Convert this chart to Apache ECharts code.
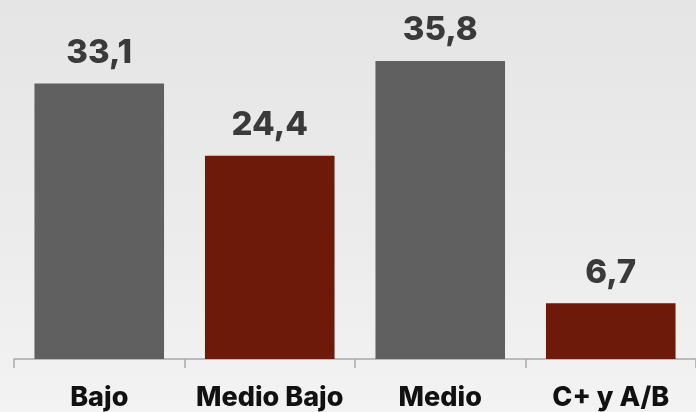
<!DOCTYPE html>
<html>
<head>
<meta charset="utf-8">
<script src="https://cdn.jsdelivr.net/npm/echarts@6/dist/echarts.min.js"></script>
<style>
  html, body { margin: 0; padding: 0; }
  #chart { width: 696px; height: 412px; }
</style>
</head>
<body>
<div id="chart"></div>
<script>
const categories = ["Bajo", "Medio Bajo", "Medio", "C+ y A/B"];
const values = [33.1, 24.4, 35.8, 6.7];
const barColors = ["#606060", "#6d1a0a", "#606060", "#6d1a0a"];

const chart = echarts.init(document.getElementById("chart"));

chart.setOption({
  animation: false,
  backgroundColor: {
    type: "linear", x: 0, y: 0, x2: 0, y2: 1,
    colorStops: [
      { offset: 0, color: "#e5e5e5" },
      { offset: 0.6, color: "#ececec" },
      { offset: 1, color: "#f3f3f3" }
    ]
  },
  grid: { left: 14, right: -2, top: 26, bottom: 53, containLabel: false },
  xAxis: {
    type: "category",
    data: categories,
    axisLine: { lineStyle: { color: "#a9a9a9", width: 1.5 } },
    axisTick: { show: true, length: 9, lineStyle: { color: "#a9a9a9", width: 1.5 } },
    axisLabel: {
      interval: 0,
      hideOverlap: false,
      margin: 25,
      color: "#111111",
      fontFamily: "Inter",
      fontWeight: 800,
      fontSize: 27
    }
  },
  yAxis: {
    type: "value",
    min: 0,
    max: 40,
    show: false
  },
  series: [
    {
      type: "bar",
      barCategoryGap: "24%",
      data: values.map((v, i) => ({ value: v, itemStyle: { color: barColors[i] } })),
      label: {
        show: true,
        position: "top",
        distance: 14,
        color: "#3a3a3a",
        fontFamily: "Inter",
        fontWeight: 800,
        fontSize: 33,
        formatter: (p) => String(p.value).replace(".", ",")
      }
    }
  ]
});
</script>
</body>
</html>
